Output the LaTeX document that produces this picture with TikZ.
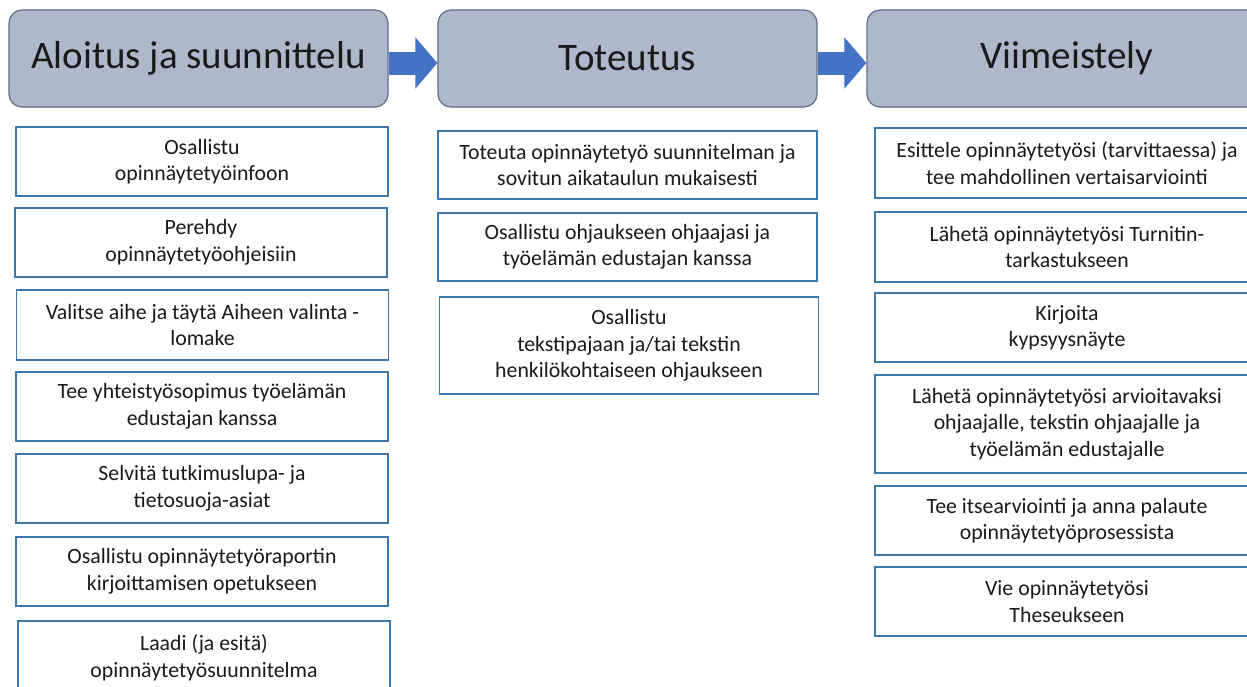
\documentclass[tikz,border=0pt]{standalone}
\usepackage{fontspec}
\setmainfont{Carlito}
\usetikzlibrary{arrows.meta}
\definecolor{hdrfill}{HTML}{ADB9CA}
\definecolor{hdrline}{HTML}{5E6E84}
\definecolor{arrowblue}{HTML}{4472C4}
\definecolor{boxline}{HTML}{3D77AE}
\definecolor{txt}{HTML}{1A1A1A}
\begin{document}
\begin{tikzpicture}[x=1pt,y=-1pt,
  header/.style={draw=hdrline, line width=1.2pt, fill=hdrfill, rounded corners=13pt,
    minimum height=97pt, inner sep=0pt, font=\fontsize{39}{46}\selectfont, text=txt},
  stepbox/.style={draw=boxline, line width=1.5pt, fill=white, align=center, inner sep=0pt,
    font=\fontsize{21.8}{26.5}\selectfont, text=txt},
  lcol/.style={stepbox, minimum width=372pt, minimum height=69pt},
  mcol/.style={stepbox, minimum width=379pt, minimum height=68pt},
  rcol/.style={stepbox, minimum width=384pt, minimum height=70pt},
  flow/.style={draw=arrowblue, line width=23pt,
    -{Triangle[length=22pt,width=50pt,fill=arrowblue]}}]
\clip (0,0) rectangle (1247,686);
\fill[white] (0,0) rectangle (1247,686);
% headers
\node[header, minimum width=379pt] (h1) at (198.5,58.5) {Aloitus ja suunnittelu};
\node[header, minimum width=379pt] (h2) at (627.5,58.5) {Toteutus};
\node[header, minimum width=400pt] (h3) at (1067,58.5) {Viimeistely};
\draw[flow] ([yshift=-4.5pt]h1.east) -- ([yshift=-4.5pt]h2.west);
\draw[flow] ([yshift=-4.5pt]h2.east) -- ([yshift=-4.5pt]h3.west);
% left column
\node[lcol] (l1) at (202,161.5) {Osallistu\\opinnäytetyöinfoon};
\node[lcol] (l2) at (201,242.5) {Perehdy\\opinnäytetyöohjeisiin};
\node[lcol, minimum height=70pt] (l3) at (202.5,325) {Valitse aihe ja täytä Aiheen valinta -\\lomake};
\node[lcol] (l4) at (202,406.5) {Tee yhteistyösopimus työelämän\\edustajan kanssa};
\node[lcol] (l5) at (202,488.5) {Selvitä tutkimuslupa- ja\\tietosuoja-asiat};
\node[lcol] (l6) at (202,571.5) {Osallistu opinnäytetyöraportin\\kirjoittamisen opetukseen};
\node[lcol, minimum height=74pt] (l7) at (204,658) {Laadi (ja esitä)\\opinnäytetyösuunnitelma};
% middle column
\node[mcol] (m1) at (627.5,165) {Toteuta opinnäytetyö suunnitelman ja\\sovitun aikataulun mukaisesti};
\node[mcol] (m2) at (627.5,247) {Osallistu ohjaukseen ohjaajasi ja\\työelämän edustajan kanssa};
\node[mcol, minimum height=97pt] (m3) at (629,345.5) {Osallistu\\tekstipajaan ja/tai tekstin\\henkilökohtaiseen ohjaukseen};
% right column
\node[rcol] (r1) at (1067,163) {Esittele opinnäytetyösi (tarvittaessa) ja\\tee mahdollinen vertaisarviointi};
\node[rcol] (r2) at (1067,247) {Lähetä opinnäytetyösi Turnitin-\\tarkastukseen};
\node[rcol, minimum height=69pt] (r3) at (1067,327.5) {Kirjoita\\kypsyysnäyte};
\node[rcol, minimum height=98pt] (r4) at (1067,424) {Lähetä opinnäytetyösi arvioitavaksi\\ohjaajalle, tekstin ohjaajalle ja\\työelämän edustajalle};
\node[rcol, minimum height=69pt] (r5) at (1067,520.5) {Tee itsearviointi ja anna palaute\\opinnäytetyöprosessista};
\node[rcol, minimum height=69pt] (r6) at (1067,601.5) {Vie opinnäytetyösi\\Theseukseen};
\end{tikzpicture}
\end{document}
